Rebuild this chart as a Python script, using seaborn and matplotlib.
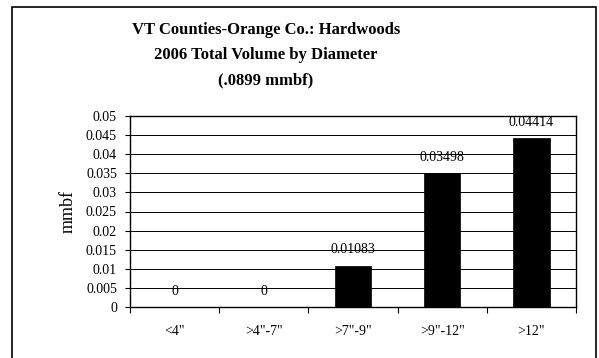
import matplotlib
matplotlib.use("Agg")
import matplotlib.pyplot as plt
import seaborn as sns
import pandas as pd
from matplotlib.patches import Rectangle
from matplotlib.ticker import FixedLocator

categories = ['<4"', '>4"-7"', '>7"-9"', '>9"-12"', '>12"']
values = [0, 0, 0.01083, 0.03498, 0.04414]
value_labels = ["0", "0", "0.01083", "0.03498", "0.04414"]
title_lines = ["VT Counties-Orange Co.: Hardwoods",
               "2006 Total Volume by Diameter",
               "(.0899 mmbf)"]
y_label = "mmbf"

sns.set_style("white")
plt.rcParams['font.family'] = ['Liberation Serif', 'DejaVu Serif']

df = pd.DataFrame({"cat": categories, "val": values})

fig = plt.figure(figsize=(5.99, 3.58), dpi=100)
ax = fig.add_axes([130/599, 1-307/358, (576-130)/599, (307-116)/358])

sns.barplot(data=df, x="cat", y="val", color="black", width=0.41,
            saturation=1, ax=ax, zorder=3, edgecolor="black", linewidth=0.5)

ax.set_ylim(0, 0.05)
ax.set_xlim(-0.5, len(categories)-0.5)
ax.set_yticks([i*0.005 for i in range(11)])
ax.set_yticklabels(["0" if i == 0 else f"{i*0.005:g}" for i in range(11)])
ax.grid(axis="y", color="black", linewidth=0.7, zorder=0)
ax.set_axisbelow(True)
for s in ax.spines.values():
    s.set_color("black")
    s.set_linewidth(1.0)
    s.set_visible(True)

ax.xaxis.set_minor_locator(FixedLocator([i - 0.5 for i in range(len(categories)+1)]))
ax.tick_params(axis="x", which="major", length=0, pad=13, labelsize=10, colors="black")
ax.tick_params(axis="x", which="minor", length=4, width=0.8, direction="out", color="black", bottom=True)
ax.tick_params(axis="y", which="major", length=3.4, width=0.8, direction="out", pad=6,
               labelsize=10, colors="black", left=True)

ax.set_xlabel("")
ax.set_ylabel(y_label, fontsize=13, color="black")
ax.yaxis.set_label_coords(-0.12, 0.5)

for i, (v, lab) in enumerate(zip(values, value_labels)):
    ax.annotate(lab, xy=(i, v), xytext=(0, 11.5), textcoords="offset points",
                ha="center", va="center", fontsize=10, color="black", zorder=5)

for k, (line, yp) in enumerate(zip(title_lines, [30, 55, 80])):
    fig.text(266/599, 1 - yp/358, line, ha="center", va="center",
             fontsize=12, fontweight="bold", color="black")

border = Rectangle((12/599, -0.05), (596-12)/599, (1-7/358) + 0.05,
                   transform=fig.transFigure, fill=False, edgecolor="black",
                   linewidth=1.2, clip_on=False)
fig.patches.append(border)

fig.savefig("out.png", dpi=100)
